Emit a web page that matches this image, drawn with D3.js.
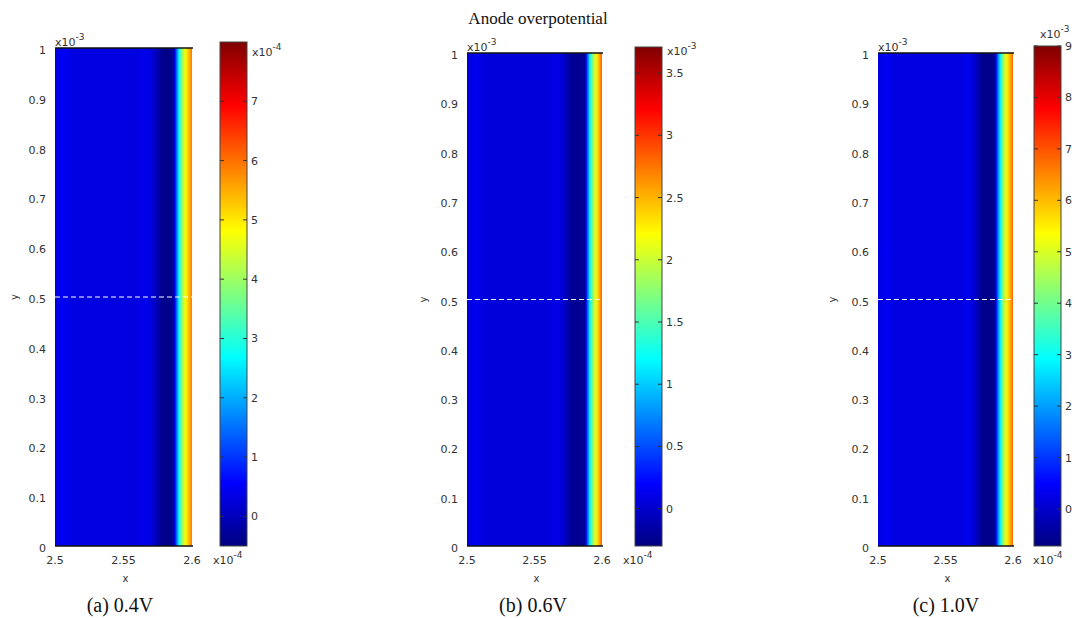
<!DOCTYPE html>
<html><head><meta charset="utf-8">
<script src="https://cdn.jsdelivr.net/npm/d3@7"></script>
<style>body{margin:0;background:#fff}svg{display:block}</style>
</head><body>
<svg id="c" width="1076" height="618"></svg>
<script>
// ---------- data ----------
const chartTitle = "Anode overpotential";
const captions = ["(a) 0.4V", "(b) 0.6V", "(c) 1.0V"];
const xDomain = [2.5, 2.6];          // x10^-4
const yDomain = [0, 1];              // x10^-3
const xTicks = [2.5, 2.55, 2.6];
const yTicks = [0, 0.1, 0.2, 0.3, 0.4, 0.5, 0.6, 0.7, 0.8, 0.9, 1];
const dashedY = 0.5;

// overpotential profile across x (constant in y)
const profileX_a = [2.500, 2.502, 2.506, 2.511, 2.516, 2.530, 2.560, 2.566, 2.570, 2.5745, 2.578, 2.583, 2.5864, 2.5876, 2.5891, 2.5905, 2.5920, 2.5934, 2.5949, 2.5964, 2.5978, 2.5993, 2.600];
const profileV_a = [0.30, 0.35, 0.50, 0.35, 0.30, 0.30, 0.30, 0.42, 0.30, -0.05, -0.38, -0.42, -0.32, 0.55, 1.70, 2.70, 3.50, 4.20, 4.70, 5.05, 5.40, 5.80, 5.90];
const profileX_b = [2.500, 2.502, 2.506, 2.511, 2.516, 2.530, 2.560, 2.566, 2.570, 2.5735, 2.577, 2.583, 2.5870, 2.5882, 2.5896, 2.5908, 2.5922, 2.5936, 2.5950, 2.5964, 2.5978, 2.5993, 2.600];
const profileV_b = [0.06, 0.08, 0.14, 0.08, 0.06, 0.06, 0.06, 0.11, 0.06, -0.07, -0.21, -0.23, -0.19, 0.18, 0.70, 1.12, 1.50, 1.85, 2.10, 2.30, 2.50, 2.75, 2.85];
const profileX_c = [2.500, 2.502, 2.506, 2.511, 2.516, 2.530, 2.560, 2.566, 2.570, 2.5735, 2.577, 2.5835, 2.5862, 2.5875, 2.5890, 2.5905, 2.5920, 2.5934, 2.5949, 2.5964, 2.5978, 2.5993, 2.600];
const profileV_c = [0.20, 0.25, 0.40, 0.25, 0.20, 0.20, 0.20, 0.32, 0.20, -0.20, -0.58, -0.62, -0.52, 0.50, 1.80, 2.80, 3.90, 4.70, 5.20, 5.70, 6.10, 6.60, 6.80];

const cbarDomain_a = [-0.5, 8.0];    // x10^-4
const cbarDomain_b = [-0.3, 3.71];   // x10^-3
const cbarDomain_c = [-0.72, 9.0];   // x10^-4
const cbarTicks_a = [0, 1, 2, 3, 4, 5, 6, 7];
const cbarTicks_b = [0, 0.5, 1, 1.5, 2, 2.5, 3, 3.5];
const cbarTicks_c = [0, 1, 2, 3, 4, 5, 6, 7, 8, 9];
const cbarExp = ["-4", "-3", "-3"];

// ---------- layout ----------
const layout = [
  {L:55,  R:192,  T:48, B:546, cbL:220,  cbR:247,  cbT:42, cbB:546, capX:120, yLab:18,  expTop:[252,56], xExp:213},
  {L:467, R:602,  T:53, B:546, cbL:635,  cbR:662,  cbT:47, cbB:546, capX:533, yLab:427, expTop:[667,55], xExp:623},
  {L:878, R:1013, T:53, B:546, cbL:1034, cbR:1061, cbT:46, cbB:546, capX:946, yLab:836, expTop:[1040,38], xExp:1033}
];
const panels = [
  {px: profileX_a, pv: profileV_a, dom: cbarDomain_a, ticks: cbarTicks_a},
  {px: profileX_b, pv: profileV_b, dom: cbarDomain_b, ticks: cbarTicks_b},
  {px: profileX_c, pv: profileV_c, dom: cbarDomain_c, ticks: cbarTicks_c}
];

function jet(t) {
  t = Math.max(0, Math.min(1, t));
  const c = v => Math.round(255 * Math.max(0, Math.min(1, v)));
  return d3.rgb(c(1.5 - Math.abs(4*t - 3)), c(1.5 - Math.abs(4*t - 2)), c(1.5 - Math.abs(4*t - 1))).formatHex();
}
const jetStops = [0, 1/8, 3/8, 5/8, 7/8, 1];

const svg = d3.select("#c");
const defs = svg.append("defs");
const sans = "DejaVu Sans, Verdana, sans-serif";
const serif = "Liberation Serif, Times New Roman, serif";
const txtCol = "#333";

svg.append("text").attr("x", 538).attr("y", 24).attr("text-anchor", "middle")
  .attr("font-family", serif).attr("font-size", 17).attr("fill", "#111").text(chartTitle);

function expText(g, x, y, exp, anchor) {
  const t = g.append("text").attr("x", x).attr("y", y).attr("font-family", sans)
    .attr("font-size", 11).attr("fill", txtCol).attr("text-anchor", anchor || "start");
  t.append("tspan").text("x10");
  t.append("tspan").attr("dy", -6).attr("font-size", 9).text(exp);
}

panels.forEach((p, i) => {
  const lo = layout[i];
  const g = svg.append("g");
  const x = d3.scaleLinear().domain(xDomain).range([lo.L, lo.R]);
  const y = d3.scaleLinear().domain(yDomain).range([lo.B, lo.T]);
  const cs = d3.scaleLinear().domain(p.dom).range([0, 1]);
  const cy = d3.scaleLinear().domain(p.dom).range([lo.cbB, lo.cbT]);

  // field gradient along x
  const gid = "field" + i;
  const grad = defs.append("linearGradient").attr("id", gid)
    .attr("gradientUnits", "userSpaceOnUse")
    .attr("x1", x(xDomain[0])).attr("x2", x(xDomain[1])).attr("y1", 0).attr("y2", 0);
  grad.selectAll("stop").data(p.px.map((xv, k) => ({xv, v: p.pv[k]}))).join("stop")
    .attr("offset", d => (x(d.xv) - x(xDomain[0])) / (x(xDomain[1]) - x(xDomain[0])))
    .attr("stop-color", d => jet(cs(d.v)));
  g.append("rect").attr("x", x(xDomain[0])).attr("y", y(yDomain[1]))
    .attr("width", x(xDomain[1]) - x(xDomain[0])).attr("height", y(yDomain[0]) - y(yDomain[1]))
    .attr("fill", `url(#${gid})`);

  // dashed white line
  g.append("line").attr("x1", x(xDomain[0])).attr("x2", x(xDomain[1]))
    .attr("y1", y(dashedY)).attr("y2", y(dashedY))
    .attr("stroke", "#fff").attr("stroke-width", 1.2).attr("stroke-dasharray", "5,3");

  // top and bottom frame lines
  [yDomain[1], yDomain[0]].forEach(v => {
    g.append("line").attr("x1", x(xDomain[0])).attr("x2", x(xDomain[1]) + 1)
      .attr("y1", y(v)).attr("y2", y(v)).attr("stroke", "#111").attr("stroke-width", 1.5);
  });

  // y tick labels
  g.selectAll(".yt").data(yTicks).join("text")
    .attr("x", lo.L - 9).attr("y", d => y(d) + 6)
    .attr("text-anchor", "end").attr("font-family", sans).attr("font-size", 11).attr("fill", txtCol)
    .text(d => d3.format("~g")(d));
  expText(g, lo.L, lo.T - 2, "-3");
  g.append("text").attr("transform", `translate(${lo.yLab},${y(0.5)}) rotate(-90)`)
    .attr("text-anchor", "middle").attr("font-family", sans).attr("font-size", 10).attr("fill", txtCol).text("y");

  // x tick labels
  g.selectAll(".xt").data(xTicks).join("text")
    .attr("x", d => x(d)).attr("y", lo.B + 18).attr("text-anchor", "middle")
    .attr("font-family", sans).attr("font-size", 11).attr("fill", txtCol)
    .text(d => d3.format("~g")(d));
  expText(g, lo.xExp, lo.B + 18, "-4");
  g.append("text").attr("x", x(2.55) + 2).attr("y", lo.B + 36).attr("text-anchor", "middle")
    .attr("font-family", sans).attr("font-size", 10).attr("fill", txtCol).text("x");

  // caption
  g.append("text").attr("x", lo.capX).attr("y", 612).attr("text-anchor", "middle")
    .attr("font-family", serif).attr("font-size", 20).attr("fill", "#111").text(captions[i]);

  // colorbar
  const cid = "cbar" + i;
  const cg = defs.append("linearGradient").attr("id", cid).attr("x1", 0).attr("x2", 0).attr("y1", 1).attr("y2", 0);
  cg.selectAll("stop").data(jetStops).join("stop")
    .attr("offset", d => d).attr("stop-color", d => jet(d));
  g.append("rect").attr("x", lo.cbL).attr("y", lo.cbT).attr("width", lo.cbR - lo.cbL)
    .attr("height", lo.cbB - lo.cbT).attr("fill", `url(#${cid})`)
    .attr("stroke", "#444").attr("stroke-width", 1);
  p.ticks.forEach(t => {
    g.append("line").attr("x1", lo.cbL).attr("x2", lo.cbL + 4).attr("y1", cy(t)).attr("y2", cy(t)).attr("stroke", "#333");
    g.append("line").attr("x1", lo.cbR - 4).attr("x2", lo.cbR).attr("y1", cy(t)).attr("y2", cy(t)).attr("stroke", "#333");
  });
  g.selectAll(".ct").data(p.ticks).join("text")
    .attr("x", lo.cbR + 4).attr("y", d => cy(d) + 4)
    .attr("font-family", sans).attr("font-size", 11).attr("fill", txtCol)
    .text(d => d3.format("~g")(d));
  expText(g, lo.expTop[0], lo.expTop[1], cbarExp[i]);
});
</script>
</body></html>
